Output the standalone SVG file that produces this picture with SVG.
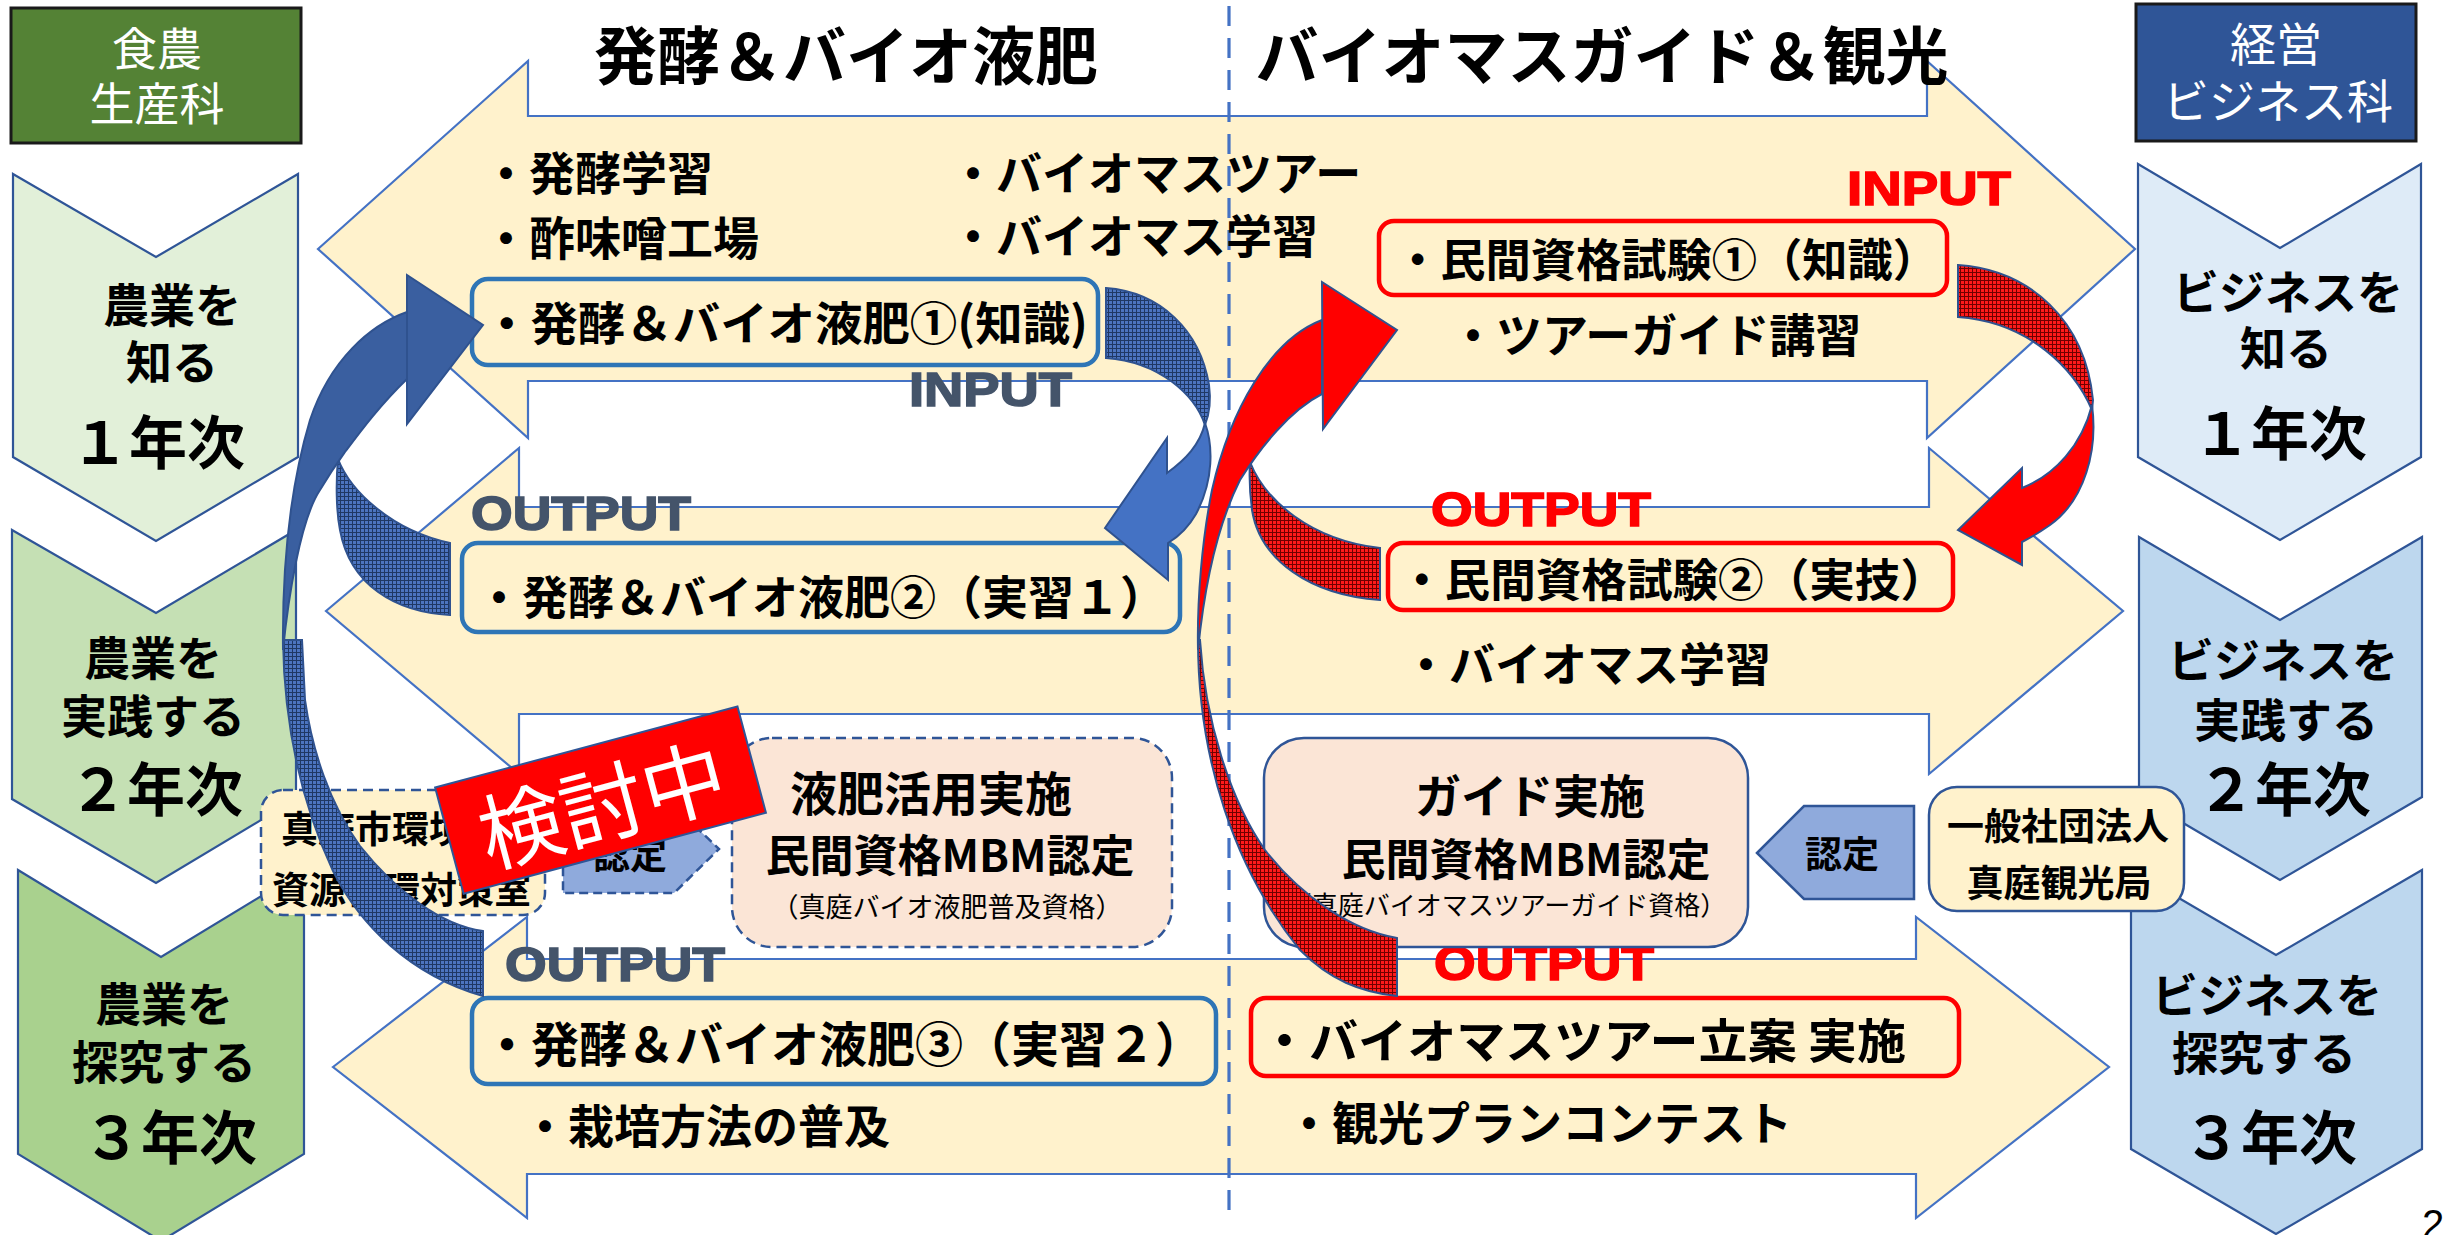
<svg xmlns="http://www.w3.org/2000/svg" width="2445" height="1235" viewBox="0 0 2445 1235">
<defs>
<pattern id="hatchB" width="4" height="4" patternUnits="userSpaceOnUse"><rect width="4" height="4" fill="#4C74C0"/><path d="M0 0.5H4M0.5 0V4" stroke="#1F3864" stroke-width="1"/></pattern>
<pattern id="hatchR" width="4" height="4" patternUnits="userSpaceOnUse"><rect width="4" height="4" fill="#FF1A1A"/><path d="M0 0.5H4M0.5 0V4" stroke="#700000" stroke-width="1"/></pattern>
</defs>
<style>
.band{fill:#FFF2CC;stroke:#4472C4;stroke-width:2.2}
.chev{stroke:#2F5597;stroke-width:2.2}
.t{font-family:"Noto Sans CJK JP","Noto Sans CJK SC",sans-serif;font-weight:700;fill:#000;dominant-baseline:central}
.c{text-anchor:middle}
.n{font-weight:400}
.hd{font-family:"Noto Sans CJK JP",sans-serif;font-weight:400;fill:#fff;font-size:45px;text-anchor:middle;dominant-baseline:central}
.io{font-family:"Liberation Sans","Noto Sans",sans-serif;font-weight:700;font-size:48px;stroke-width:1.6}
.dk{fill:#44546A;stroke:#44546A}
.rd{fill:#FF0000;stroke:#FF0000}
.bbox{fill:none;stroke:#2E75B6;stroke-width:4.5}
.rbox{fill:none;stroke:#FF0000;stroke-width:4.5}
.arr{stroke:#2F528F;stroke-width:2}
</style>

<g id="bands">
<polygon class="band" points="318,249 528,61 528,116 1927,116 1927,61 2135,249 1927,438 1927,381 528,381 528,438"/>
<polygon class="band" points="326,611 519,448 519,507 1929,507 1929,448 2123,611 1929,774 1929,714 519,714 519,774"/>
<polygon class="band" points="333,1067 527,917 527,959 1916,959 1916,917 2109,1067 1916,1218 1916,1174 527,1174 527,1218"/>
</g>
<line id="divider" x1="1229" y1="6" x2="1229" y2="1216" stroke="#4472C4" stroke-width="3.2" stroke-dasharray="20 12"/>

<g id="header-left">
<rect x="11" y="8" width="290" height="135" fill="#548235" stroke="#1A1A1A" stroke-width="3"/>
<text class="hd" x="157" y="46">食農</text>
<text class="hd" x="157" y="101">生産科</text>
</g>
<g id="header-right">
<rect x="2136" y="4" width="280" height="137" fill="#2F5597" stroke="#1A1A1A" stroke-width="3"/>
<text class="hd" x="2276" y="41" style="font-size:46px">経営</text>
<text class="hd" x="2278" y="98" style="font-size:46px">ビジネス科</text>
</g>

<g id="title-left"><text class="t c" x="846" y="51" font-size="63">発酵＆バイオ液肥</text></g>
<g id="title-right"><text class="t c" x="1602" y="51" font-size="63">バイオマスガイド＆観光</text></g>

<g id="chev-l1">
<polygon class="chev" fill="#E2F0D9" points="13,174 156,257 298,174 298,457 156,541 13,457"/>
<text class="t c" x="172" y="302" font-size="46">農業を</text>
<text class="t c" x="172" y="359" font-size="46">知る</text>
<text class="t c" x="158" y="439" font-size="58">１年次</text>
</g>
<g id="chev-l2">
<polygon class="chev" fill="#C5E0B4" points="12,530 156,613 296,530 296,799 156,883 12,799"/>
<text class="t c" x="153" y="655" font-size="46">農業を</text>
<text class="t c" x="153" y="713" font-size="46">実践する</text>
<text class="t c" x="156" y="786" font-size="58">２年次</text>
</g>
<g id="chev-l3">
<polygon class="chev" fill="#A9D18E" points="18,870 161,957 304,870 304,1154 161,1241 18,1154"/>
<text class="t c" x="164" y="1001" font-size="46">農業を</text>
<text class="t c" x="164" y="1059" font-size="46">探究する</text>
<text class="t c" x="170" y="1134" font-size="58">３年次</text>
</g>
<g id="chev-r1">
<polygon class="chev" fill="#DEEBF7" points="2138,164 2280,248 2421,164 2421,457 2280,540 2138,457"/>
<text class="t c" x="2288" y="289" font-size="46">ビジネスを</text>
<text class="t c" x="2286" y="345" font-size="46">知る</text>
<text class="t c" x="2280" y="430" font-size="58">１年次</text>
</g>
<g id="chev-r2">
<polygon class="chev" fill="#BDD7EE" points="2139,537 2280,620 2422,537 2422,797 2280,880 2139,797"/>
<text class="t c" x="2283" y="657" font-size="46">ビジネスを</text>
<text class="t c" x="2286" y="717" font-size="46">実践する</text>
<text class="t c" x="2284" y="786" font-size="58">２年次</text>
</g>
<g id="chev-r3">
<polygon class="chev" fill="#BDD7EE" points="2131,870 2276,955 2422,870 2422,1149 2276,1234 2131,1149"/>
<text class="t c" x="2267" y="992" font-size="46">ビジネスを</text>
<text class="t c" x="2264" y="1050" font-size="46">探究する</text>
<text class="t c" x="2270" y="1134" font-size="58">３年次</text>
</g>

<g id="row1-left">
<text class="t" x="483" y="170" font-size="46">・発酵学習</text>
<text class="t" x="483" y="235" font-size="46">・酢味噌工場</text>
</g>
<g id="box-ferment1">
<rect class="bbox" x="472" y="279" width="626" height="86" rx="16"/>
<text class="t" x="483" y="320" font-size="46" textLength="605" lengthAdjust="spacingAndGlyphs">・発酵＆バイオ液肥①(知識)</text>
</g>
<g id="row1-right">
<text class="t" x="950" y="170" font-size="46">・バイオマスツアー</text>
<text class="t" x="950" y="233" font-size="46">・バイオマス学習</text>
</g>
<g id="box-exam1">
<rect class="rbox" x="1379" y="221" width="568" height="74" rx="15"/>
<text class="t" x="1395" y="257" font-size="45" textLength="543" lengthAdjust="spacingAndGlyphs">・民間資格試験①（知識）</text>
</g>
<text class="t" x="1450" y="332" font-size="46">・ツアーガイド講習</text>
<text class="io rd" x="1847" y="205" textLength="164" lengthAdjust="spacingAndGlyphs">INPUT</text>
<text class="io dk" x="909" y="406" textLength="163" lengthAdjust="spacingAndGlyphs">INPUT</text>

<text class="io dk" x="471" y="530" textLength="220" lengthAdjust="spacingAndGlyphs">OUTPUT</text>
<g id="box-ferment2">
<rect class="bbox" x="462" y="543" width="718" height="89" rx="16"/>
<text class="t" x="476" y="594" font-size="46">・発酵＆バイオ液肥②（実習１）</text>
</g>
<text class="io rd" x="1431" y="526" textLength="220" lengthAdjust="spacingAndGlyphs">OUTPUT</text>
<g id="box-exam2">
<rect class="rbox" x="1388" y="543" width="565" height="67" rx="15"/>
<text class="t" x="1399" y="577" font-size="45" textLength="547" lengthAdjust="spacingAndGlyphs">・民間資格試験②（実技）</text>
</g>
<text class="t" x="1403" y="661" font-size="46">・バイオマス学習</text>

<text class="io dk" x="505" y="981" textLength="220" lengthAdjust="spacingAndGlyphs">OUTPUT</text>
<g id="box-ferment3">
<rect class="bbox" x="472" y="998" width="744" height="86" rx="16"/>
<text class="t" x="483" y="1041" font-size="48">・発酵＆バイオ液肥③（実習２）</text>
</g>
<text class="t" x="522" y="1123" font-size="46">・栽培方法の普及</text>
<text class="io rd" x="1434" y="980" textLength="220" lengthAdjust="spacingAndGlyphs">OUTPUT</text>
<g id="box-tour">
<rect class="rbox" x="1251" y="998" width="708" height="78" rx="15"/>
<text class="t" x="1260" y="1037" font-size="47" textLength="646" lengthAdjust="spacingAndGlyphs">・バイオマスツアー立案 実施</text>
</g>
<text class="t" x="1286" y="1120" font-size="46">・観光プランコンテスト</text>

<g id="box-ekihi">
<rect x="732" y="738" width="440" height="209" rx="40" fill="#FBE5D6" stroke="#2F5597" stroke-width="2.5" stroke-dasharray="10 6"/>
<text class="t c" x="931" y="790" font-size="47">液肥活用実施</text>
<text class="t c" x="950" y="853" font-size="44">民間資格MBM認定</text>
<text class="t c n" x="947" y="905" font-size="27" fill="#222">（真庭バイオ液肥普及資格）</text>
</g>
<g id="box-guide">
<rect x="1264" y="738" width="484" height="209" rx="40" fill="#FBE5D6" stroke="#2F5597" stroke-width="2.5"/>
<text class="t c" x="1530" y="793" font-size="46">ガイド実施</text>
<text class="t c" x="1526" y="857" font-size="44">民間資格MBM認定</text>
<text class="t c n" x="1506" y="903" font-size="26" fill="#222">（真庭バイオマスツアーガイド資格）</text>
</g>
<g id="cert-right">
<polygon points="1757,853 1804,806 1914,806 1914,899 1804,899" fill="#8FAADC" stroke="#2F5597" stroke-width="2.5"/>
<text class="t c" x="1842" y="852" font-size="37" fill="#fff">認定</text>
</g>
<g id="box-kanko">
<rect x="1929" y="787" width="255" height="124" rx="28" fill="#FFF2CC" stroke="#2F5597" stroke-width="2.5"/>
<text class="t c" x="2058" y="824" font-size="37">一般社団法人</text>
<text class="t c" x="2059" y="881" font-size="37">真庭観光局</text>
</g>
<g id="cert-left">
<polygon points="563,806 674,806 719,849 674,893 563,893" fill="#8FAADC" stroke="#2F5597" stroke-width="2.5" stroke-dasharray="9 5"/>
<text class="t c" x="630" y="853" font-size="37" fill="#fff">認定</text>
</g>
<g id="box-city">
<rect x="261" y="790" width="284" height="125" rx="22" fill="#FFF2CC" stroke="#2F5597" stroke-width="2.5" stroke-dasharray="10 6"/>
<text class="t" x="281" y="827" font-size="37">真庭市環境</text>
<text class="t" x="272" y="888" font-size="37">資源循環対策室</text>
</g>

<g id="connectors">
<path class="arr" fill="url(#hatchB)" d="M338,459 C350,490 390,530 450,543 L450,615 C395,612 350,585 340,530 C336,510 336,480 338,459 Z"/>
<path class="arr" fill="url(#hatchB)" d="M283,640 C284,720 300,800 333,871 C360,925 410,975 483,996 L483,931 C440,925 395,890 360,846 C330,805 312,750 305,700 L302,640 Z"/>
<path class="arr" fill="#3A5FA0" d="M407,312 C370,325 330,360 310,420 C292,480 282,560 283,650 C288,600 300,520 320,490 C332,470 340,459 345,452 C360,432 380,405 407,379 Z"/>
<polygon class="arr" fill="#3A5FA0" points="407,275 483,325 407,424"/>

<path class="arr" fill="url(#hatchB)" d="M1106,288 C1160,292 1200,330 1209,385 C1211,400 1209,415 1205,425 C1195,395 1160,362 1106,358 Z"/>
<path class="arr" fill="#4472C4" d="M1205,423 C1213,445 1214,480 1196,514 C1188,528 1178,537 1168,543 L1168,580 L1105,528 L1167,438 L1167,473 C1185,460 1200,445 1205,423 Z"/>

<path class="arr" fill="url(#hatchR)" d="M1250,462 C1265,500 1310,540 1380,548 L1380,600 C1310,595 1260,560 1252,510 C1250,495 1249,478 1250,462 Z"/>
<path class="arr" fill="url(#hatchR)" d="M1198,640 C1198,760 1235,870 1300,950 C1330,980 1360,992 1397,996 L1397,938 C1350,930 1300,895 1265,850 C1230,800 1205,720 1200,640 Z"/>
<path class="arr" fill="#FF0000" d="M1322,320 C1270,340 1230,410 1212,490 C1202,540 1197,600 1198,650 C1205,580 1220,520 1240,480 C1260,448 1290,410 1322,394 Z"/>
<polygon class="arr" fill="#FF0000" points="1322,282 1397,330 1323,429"/>

<path class="arr" fill="url(#hatchR)" d="M1958,265 C2030,270 2085,320 2093,400 L2092,410 C2075,370 2030,322 1958,317 Z"/>
<path class="arr" fill="#FF0000" d="M2092,405 C2098,450 2085,500 2050,525 C2040,532 2030,538 2022,542 L2022,565 L1958,530 L2022,468 L2022,488 C2055,475 2082,445 2092,405 Z"/>
</g>

<g id="pending" transform="rotate(-15 601 800)">
<rect x="444" y="745" width="313" height="110" fill="#FF0000" stroke="#2F5597" stroke-width="2"/>
<text x="601" y="800" font-family="Noto Sans CJK JP, sans-serif" font-weight="400" font-size="84" fill="#fff" text-anchor="middle" dominant-baseline="central">検討中</text>
</g>
<text x="2422" y="1238" font-family="Liberation Sans, sans-serif" font-size="40" fill="#000">2</text>
</svg>
